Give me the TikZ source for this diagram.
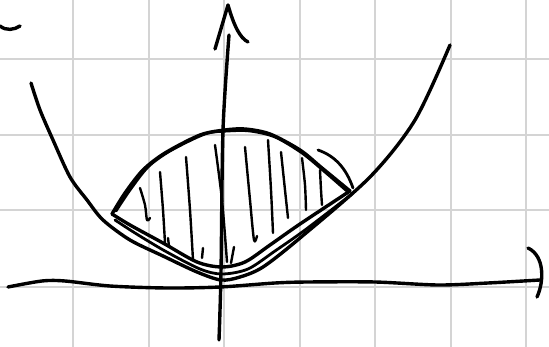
\documentclass[tikz,border=0pt]{standalone}
\usepackage{tikz}
\usetikzlibrary{calc}
\definecolor{gridgray}{RGB}{212,212,212}

\begin{document}
\begin{tikzpicture}[x=1pt,y=-1pt,line cap=round,line join=round,
   gridline/.style={draw=gridgray,line width=2pt},
   pen/.style={draw=black,line width=3.4pt},
   thinpen/.style={draw=black,line width=2.8pt},
   hatch/.style={draw=black,line width=2.4pt}]
  \useasboundingbox[fill=white] (0,0) rectangle (549,347);
  % grid
  \foreach \gx in {73,148.5,224,299.5,375,450.5,526}
    \draw[gridline] (\gx,0) -- (\gx,347);
  \foreach \gy in {59,135,210,287}
    \draw[gridline] (0,\gy) -- (549,\gy);
  % stray stroke top left
  \draw[pen] (0,26) .. controls (6,31) and (14,30) .. (20,26);
  % axes
  \coordinate (xs) at (8,287);
  \coordinate (xe) at (540,280);
  \coordinate (ys) at (219,340);
  \coordinate (ye) at (229,35);
  \draw[pen] plot[smooth] coordinates {(xs) (42,281) (65,281) (110,286) (167,288)
     (220,287) (275,283) (308,282) (375,282) (438,285) (488,283) (xe)};
  \draw[pen] (528,248) .. controls (545,256) and (544,282) .. (537,297);
  \draw[pen] plot[smooth] coordinates {(ys) (221,272) (223,130) (ye)};
  \draw[pen] (215,49) -- (228,5) .. controls (234,26) and (240,38) .. (248,42);
  % parabola
  \draw[pen] plot[smooth] coordinates {(31,83) (40,110) (53,140) (70,177) (87,200)
     (103,220) (130,240) (163,256) (197,272) (221,280) (240,277) (263,267)
     (300,238) (370,177) (415,120) (450,45)};
  % lens
  \coordinate (lt) at (112,214);
  \coordinate (rt) at (350,191);
  \draw[pen] plot[smooth] coordinates {(lt) (125,193) (143,170) (165,153) (200,135)
     (225,130) (245,129) (270,134) (300,150) (322,168) (rt)};
  \draw[thinpen] plot[smooth] coordinates {(116,211) (130,190) (148,167) (170,151)
     (205,134) (228,131) (250,131) (275,137) (302,153) (325,172) (348,192)};
  \draw[pen] plot[smooth] coordinates {(lt) (130,225) (163,243) (197,262) (222,267)
     (245,262) (270,245) (300,224) (rt)};
  \draw[thinpen] plot[smooth] coordinates {(115,220) (135,233) (165,251) (200,269)
     (222,274) (248,269) (275,251) (305,230) (352,194)};
  \draw[thinpen] (318,150) .. controls (335,156) and (346,168) .. (353,188);
  % hatching
  \draw[hatch] plot[smooth] coordinates {(140,188) (145,205) (147,220) (150,218)};
  \draw[hatch] plot[smooth] coordinates {(160,172) (163,210) (165,243)};
  \draw[hatch] plot[smooth] coordinates {(186,157) (190,210) (193,260)};
  \draw[hatch] plot[smooth] coordinates {(215,145) (222,200) (227,262)};
  \draw[hatch] plot[smooth] coordinates {(245,147) (250,200) (254,240) (257,236)};
  \draw[hatch] plot[smooth] coordinates {(268,140) (271,190) (273,233)};
  \draw[hatch] plot[smooth] coordinates {(281,152) (285,190) (288,218)};
  \draw[hatch] plot[smooth] coordinates {(302,158) (305,185) (306,210)};
  \draw[hatch] plot[smooth] coordinates {(320,170) (321,190) (322,205)};
  \draw[hatch] (168,238) -- (169,246);
  \draw[hatch] (203,248) -- (202,258);
  \draw[hatch] (234,247) -- (231,263);
\end{tikzpicture}
\end{document}
